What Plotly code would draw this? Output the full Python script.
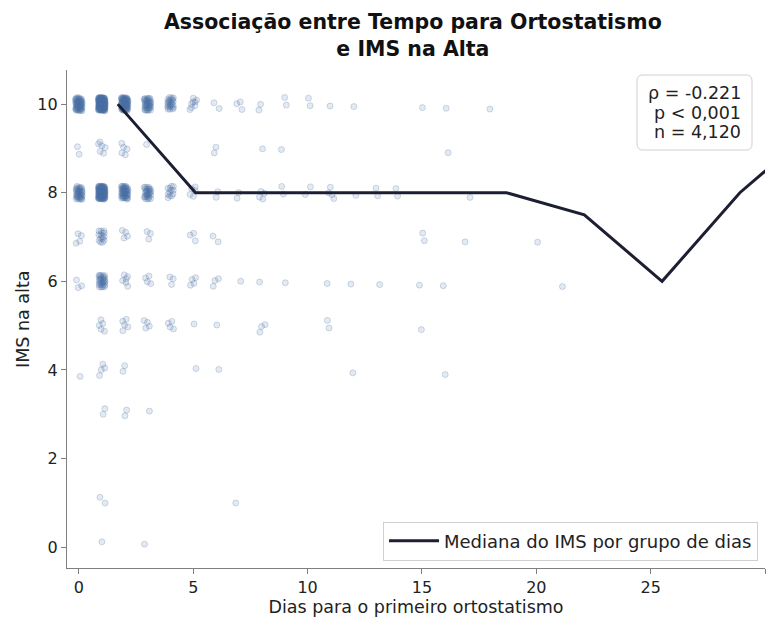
import plotly.graph_objects as go

# ---- Data ----
# Scatter clusters: day, IMS value, approximate number of visible points
cluster_days = [0,0,0,0,0,0,
                1,1,1,1,1,1,1,1,1,1,
                2,2,2,2,2,2,2,2,
                3,3,3,3,3,3,3,3,
                4,4,4,4,
                5,5,5,5,5,5,
                6,6,6,6,6,6,6,
                7,7,7,7,
                8,8,8,8,8,
                9,9,9,9,
                10,10,
                11,11,11,11,
                12,12,12,12,
                13,13,
                14,
                15,15,15,15,
                16,16,16,16,
                17,17,
                18,
                20,
                21]
cluster_ims = [10,9,8,7,6,4,
               10,9,8,7,6,5,4,3,1,0,
               10,9,8,7,6,5,4,3,
               10,9,8,7,6,5,3,0,
               10,8,6,5,
               10,8,7,6,5,4,
               10,9,8,7,6,5,4,
               10,8,6,1,
               10,9,8,6,5,
               10,9,8,6,
               10,8,
               10,8,6,5,
               10,8,6,4,
               8,6,
               8,
               10,7,6,5,
               10,9,6,4,
               8,7,
               10,
               7,
               6]
cluster_counts = [60,2,40,4,3,1,
                  150,6,120,15,30,5,4,2,2,1,
                  80,5,50,4,6,5,2,2,
                  40,1,30,3,4,4,1,1,
                  25,12,3,4,
                  8,5,3,4,1,1,
                  2,2,2,2,3,1,1,
                  3,2,1,1,
                  2,1,4,1,3,
                  2,1,2,1,
                  2,2,
                  1,4,1,2,
                  1,1,1,1,
                  2,1,
                  2,
                  1,2,1,1,
                  1,1,1,1,
                  1,1,
                  1,
                  1,
                  1]

# Median IMS per day group (group centres)
median_days = [1.7, 5.1, 8.5, 11.9, 15.3, 18.7, 22.1, 25.5, 28.9, 32.3]
median_ims = [10, 8, 8, 8, 8, 8, 7.5, 6, 8, 9.5]

title_text = "Associação entre Tempo para Ortostatismo<br>e IMS na Alta"
stats_lines = ["ρ = -0.221", "p < 0,001", "n = 4,120"]

# ---- Display jitter (deterministic, presentation only) ----
JIT = 0.15
a1, a2 = 0.7548776662, 0.5698402910
xs, ys = [], []
for k, (d, v, c) in enumerate(zip(cluster_days, cluster_ims, cluster_counts)):
    for i in range(c):
        n = i + 1 + k * 7
        fx = (0.5 + a1 * n) % 1.0
        fy = (0.5 + a2 * n) % 1.0
        xs.append(d + JIT * (2 * fx - 1))
        ys.append(v + JIT * (2 * fy - 1))

# ---- Layout helpers (pixel -> paper) ----
W, H = 773, 617
ML, MR, MT, MB = 67, 8, 70, 49
PW, PH = W - ML - MR, H - MT - MB


def px(x):
    return (x - ML) / PW


def py(y):
    return (H - MB - y) / PH


def rounded_rect(x0, y0, x1, y1, r):
    rx, ry = r / PW, r / PH
    X0, X1, Y0, Y1 = px(x0), px(x1), py(y1), py(y0)  # Y0 bottom, Y1 top
    return (f"M{X0+rx},{Y0} L{X1-rx},{Y0} Q{X1},{Y0} {X1},{Y0+ry} "
            f"L{X1},{Y1-ry} Q{X1},{Y1} {X1-rx},{Y1} L{X0+rx},{Y1} "
            f"Q{X0},{Y1} {X0},{Y1-ry} L{X0},{Y0+ry} Q{X0},{Y0} {X0+rx},{Y0} Z")


FONT = "DejaVu Sans"
fig = go.Figure()
fig.add_trace(go.Scatter(
    x=xs, y=ys, mode="markers", showlegend=False, hoverinfo="skip",
    marker=dict(size=6, color="rgba(74,111,165,0.15)",
                line=dict(color="rgba(74,111,165,0.25)", width=1)),
))
fig.add_trace(go.Scatter(
    x=median_days, y=median_ims, mode="lines",
    name="Mediana do IMS por grupo de dias",
    line=dict(color="#1c1e33", width=3),
))

annotations = [
    dict(text="<b>" + title_text + "</b>", xref="paper", yref="paper",
         x=0.495, y=1.070, xanchor="center", yanchor="middle",
         showarrow=False, align="center",
         font=dict(family=FONT, size=20.5, color="#111")),
    dict(text="IMS na alta", xref="paper", yref="paper",
         x=px(23), y=py(320), xanchor="center", yanchor="middle",
         textangle=-90, showarrow=False,
         font=dict(family=FONT, size=17.5, color="#222")),
]
for line_text, yc in zip(stats_lines, [93, 113, 132]):
    annotations.append(dict(
        text=line_text, xref="paper", yref="paper", x=px(743), y=py(yc),
        xanchor="right", yanchor="middle", showarrow=False,
        font=dict(family=FONT, size=17.5, color="#222")))

fig.update_layout(
    width=W, height=H,
    margin=dict(l=ML, r=MR, t=MT, b=MB, autoexpand=False),
    paper_bgcolor="white", plot_bgcolor="white",
    font=dict(family=FONT, size=16, color="#222"),
    xaxis=dict(range=[-0.52, 30], showgrid=False, zeroline=False, automargin=False,
               showline=True, linecolor="#7f7f7f", linewidth=1.2,
               ticks="outside", ticklen=5, tickcolor="#7f7f7f",
               tickvals=[0, 5, 10, 15, 20, 25, 30],
               tickfont=dict(size=16, color="#222"),
               title=dict(text="Dias para o primeiro ortostatismo",
                          font=dict(size=17.5, color="#222"))),
    yaxis=dict(range=[-0.47, 10.77], showgrid=False, zeroline=False, automargin=False,
               showline=True, linecolor="#7f7f7f", linewidth=1.2,
               ticks="outside", ticklen=5, tickcolor="#7f7f7f",
               tickvals=[0, 2, 4, 6, 8, 10],
               tickfont=dict(size=16, color="#222")),
    legend=dict(x=0.99, y=0.015, xanchor="right", yanchor="bottom",
                bgcolor="white", bordercolor="#d0d0d0", borderwidth=1,
                itemwidth=50, font=dict(size=18, color="#222")),
    shapes=[dict(type="path", xref="paper", yref="paper",
                 path=rounded_rect(637, 75, 752, 150, 6),
                 fillcolor="rgba(255,255,255,0.85)",
                 line=dict(color="#d0d0d0", width=1), layer="above")],
    annotations=annotations,
)

fig.write_html("out.html")
